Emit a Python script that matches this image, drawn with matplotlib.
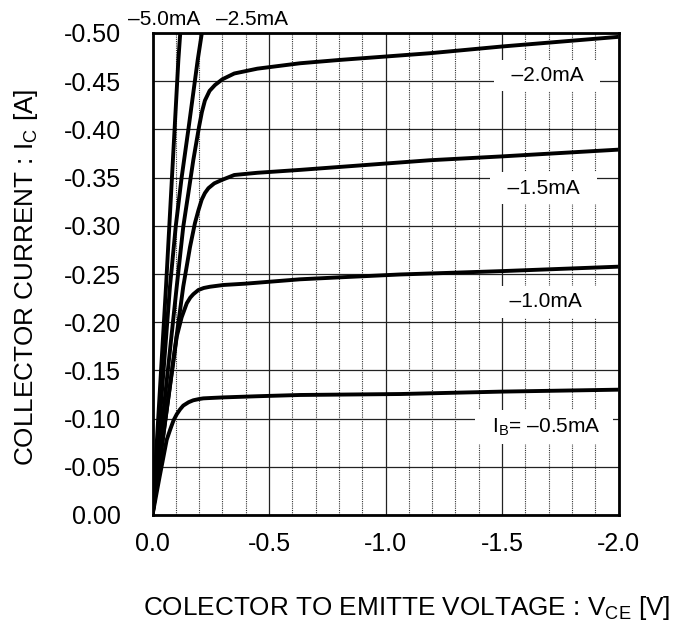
import numpy as np
import matplotlib
matplotlib.use('Agg')
import matplotlib.pyplot as plt

plt.rcParams['font.family'] = ['Liberation Sans', 'DejaVu Sans']
plt.rcParams['mathtext.fontset'] = 'custom'
plt.rcParams['mathtext.rm'] = 'Liberation Sans'
plt.rcParams['mathtext.default'] = 'regular'
plt.rcParams['axes.unicode_minus'] = False

# Vce [V], Ic [A] (Ib = -0.5 ... -5.0 mA)
vce_05 = [0, -0.03, -0.061, -0.075, -0.09, -0.104, -0.118, -0.132, -0.155, -0.175, -0.2, -0.218, -0.26, -0.304,
          -0.45, -0.633, -1.064, -1.5, -2.0]
ic_05 = [0, -0.039, -0.078, -0.088, -0.098, -0.1045, -0.1095, -0.1135, -0.117, -0.119, -0.1203, -0.121, -0.1215,
         -0.122, -0.1232, -0.1245, -0.1255, -0.128, -0.130]

vce_10 = [0, -0.104, -0.125, -0.147, -0.162, -0.175, -0.197, -0.22, -0.247, -0.304, -0.4, -0.633, -0.8, -1.062,
          -1.5, -2.0]
ic_10 = [0, -0.185, -0.205, -0.2196, -0.2255, -0.229, -0.2334, -0.2355, -0.2368, -0.2386, -0.240, -0.2445, -0.2465,
         -0.2495, -0.253, -0.2576]

vce_15 = [0, -0.132, -0.161, -0.182, -0.197, -0.211, -0.225, -0.24, -0.265, -0.297, -0.351, -0.45, -0.633, -0.8,
          -1.19, -1.5, -2.0]
ic_15 = [0, -0.237, -0.278, -0.3026, -0.316, -0.327, -0.334, -0.339, -0.344, -0.3475, -0.3527, -0.355, -0.358,
         -0.361, -0.368, -0.372, -0.379]

vce_20 = [0, -0.104, -0.132, -0.154, -0.175, -0.2, -0.212, -0.225, -0.245, -0.268, -0.3, -0.351, -0.45, -0.633,
          -0.8, -1.19, -1.5, -2.0]
ic_20 = [0, -0.237, -0.299, -0.334, -0.368, -0.403, -0.418, -0.430, -0.440, -0.446, -0.452, -0.458, -0.463, -0.4686,
         -0.472, -0.479, -0.486, -0.496]

vce_25 = [0, -0.075, -0.1, -0.125, -0.154, -0.194, -0.215]
ic_25 = [0, -0.237, -0.3, -0.35, -0.4, -0.472, -0.505]

vce_50 = [0, -0.058, -0.111, -0.122]
ic_50 = [0, -0.237, -0.472, -0.51]

curves = [(vce_05, ic_05), (vce_10, ic_10), (vce_15, ic_15),
          (vce_20, ic_20), (vce_25, ic_25), (vce_50, ic_50)]

# curve labels
in_labels = ['  \u20132.0mA  ', '  \u20131.5mA  ', '  \u20131.0mA  ', '  I$_{B}$= \u20130.5mA  ']
in_label_x = [-1.693, -1.678, -1.685, -1.68]
in_label_y = [-0.456, -0.339, -0.221, -0.091]
top_labels = ['\u20135.0mA', '\u20132.5mA']
top_label_x = [-0.049, -0.425]
top_label_y = [-0.5145, -0.5145]

x_major = [0.0, -0.5, -1.0, -1.5, -2.0]
y_major = [0.0, -0.05, -0.10, -0.15, -0.20, -0.25, -0.30, -0.35, -0.40, -0.45, -0.50]

fig = plt.figure(figsize=(6.9, 6.28), dpi=100)
ax = fig.add_axes([152.5 / 690, 1 - 515 / 628, 466 / 690, 482 / 628])

for v, i in curves:
    ax.plot(v, i, color='black', lw=2.8, solid_capstyle='butt', solid_joinstyle='round', zorder=3)

ax.set_xlim(0, -2.0)
ax.set_ylim(0, -0.5)
ax.set_xticks(x_major)
ax.set_xticklabels(['%.1f' % v if v != 0 else '0.0' for v in x_major])
ax.set_xticks([v for v in np.arange(-0.1, -2.0, -0.1) if abs(v * 2 - round(v * 2)) > 1e-6], minor=True)
ax.set_yticks(y_major)
ax.set_yticklabels(['%.2f' % v if v != 0 else '0.00' for v in y_major])

ax.grid(which='major', axis='y', color='#222222', lw=0.9, zorder=1)
ax.grid(which='major', axis='x', color='#222222', lw=0.9, zorder=1)
ax.grid(which='minor', axis='x', color='#333333', lw=0.8, linestyle=(0, (1, 1)), zorder=1)
ax.set_axisbelow(True)

ax.tick_params(which='both', length=0)
ax.tick_params(axis='x', pad=12, labelsize=18)
ax.tick_params(axis='y', pad=22.5, labelsize=18)
for s in ax.spines.values():
    s.set_linewidth(2.0)
    s.set_zorder(4)

for t, x, y in zip(in_labels, in_label_x, in_label_y):
    ax.text(x, y, t, fontsize=15, ha='center', va='center', zorder=5,
            bbox=dict(boxstyle='square,pad=0.3', fc='white', ec='none'))
for t, x, y in zip(top_labels, top_label_x, top_label_y):
    ax.text(x, y, t, fontsize=15, ha='center', va='center', clip_on=False)

ax.set_xlabel('COLECTOR TO EMITTE VOLTAGE : V$_{CE}$ [V]', fontsize=18.8)
ax.xaxis.set_label_coords(0.546, -0.163)
ax.set_ylabel('COLLECTOR CURRENT : I$_{C}$ [A]', fontsize=18.8)
ax.yaxis.set_label_coords(-0.2414, 0.494)

fig.savefig('out.png', dpi=100)
